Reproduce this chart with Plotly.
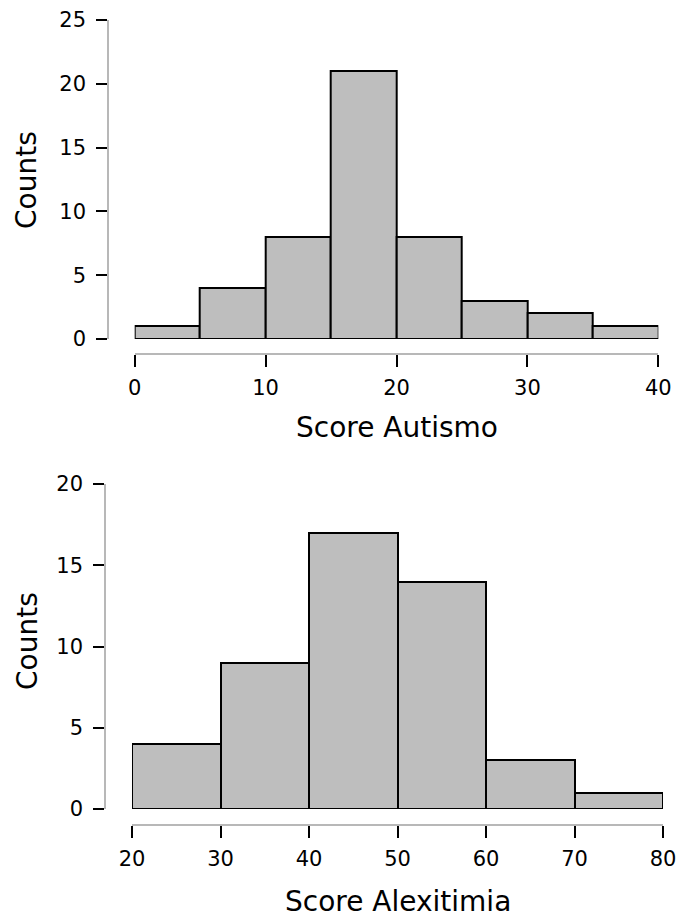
import plotly.graph_objects as go

# Histogram 1: Score Autismo
autismo_bin_starts = [0, 5, 10, 15, 20, 25, 30, 35]
autismo_bin_width = 5
autismo_counts = [1, 4, 8, 21, 8, 3, 2, 1]
autismo_xticks = [0, 10, 20, 30, 40]
autismo_yticks = [0, 5, 10, 15, 20, 25]

# Histogram 2: Score Alexitimia
alex_bin_starts = [20, 30, 40, 50, 60, 70]
alex_bin_width = 10
alex_counts = [4, 9, 17, 14, 3, 1]
alex_xticks = [20, 30, 40, 50, 60, 70, 80]
alex_yticks = [0, 5, 10, 15, 20]

W, H = 677, 921
FONT = "DejaVu Sans"
BAR_FILL = "#bebebe"
AXIS_GRAY = "#b8b8b8"


def px(x):
    return x / W


def py(y):
    return 1 - y / H


fig = go.Figure()

fig.add_trace(go.Bar(
    x=[s + autismo_bin_width / 2 for s in autismo_bin_starts],
    y=autismo_counts,
    width=[autismo_bin_width] * len(autismo_counts),
    marker=dict(color=BAR_FILL, line=dict(color="black", width=2)),
    xaxis="x", yaxis="y", showlegend=False, hoverinfo="x+y",
))
fig.add_trace(go.Bar(
    x=[s + alex_bin_width / 2 for s in alex_bin_starts],
    y=alex_counts,
    width=[alex_bin_width] * len(alex_counts),
    marker=dict(color=BAR_FILL, line=dict(color="black", width=2)),
    xaxis="x2", yaxis="y2", showlegend=False, hoverinfo="x+y",
))

tickfont = dict(family=FONT, size=21, color="black")
titlefont = dict(family=FONT, size=28, color="black")


def xax(domain, pos, rng, ticks):
    return dict(
        domain=domain, anchor="free", position=pos, range=rng,
        tickmode="array", tickvals=ticks, ticktext=[str(t) for t in ticks],
        showline=True, linecolor=AXIS_GRAY, linewidth=1.5,
        ticks="outside", ticklen=12, tickwidth=1.8, tickcolor="black",
        ticklabelstandoff=3, ticklabeloverflow="allow",
        showgrid=False, zeroline=False, automargin=False,
        tickfont=tickfont,
    )


def yax(domain, pos, rng, ticks):
    return dict(
        domain=domain, anchor="free", position=pos, range=rng,
        tickmode="array", tickvals=ticks, ticktext=[str(t) for t in ticks],
        showline=True, linecolor=AXIS_GRAY, linewidth=1.5,
        ticks="outside", ticklen=11, tickwidth=1.8, tickcolor="black",
        ticklabelstandoff=6, ticklabeloverflow="allow",
        showgrid=False, zeroline=False, automargin=False,
        tickfont=tickfont,
    )


fig.update_layout(
    width=W, height=H,
    margin=dict(l=0, r=0, t=0, b=0),
    paper_bgcolor="white", plot_bgcolor="white",
    bargap=0,
    xaxis=xax([px(134.7), px(658.3)], py(354.3), [0, 40], autismo_xticks),
    yaxis=yax([py(339), py(20)], px(108), [0, 25], autismo_yticks),
    xaxis2=xax([px(132), px(663)], py(825), [20, 80], alex_xticks),
    yaxis2=yax([py(809), py(484)], px(105), [0, 20], alex_yticks),
)

titles = [
    dict(text="Score Autismo", x=px((134.7 + 658.3) / 2), y=py(427), textangle=0),
    dict(text="Score Alexitimia", x=px((132 + 663) / 2), y=py(901), textangle=0),
    dict(text="Counts", x=px(27), y=py(180), textangle=-90),
    dict(text="Counts", x=px(27), y=py(641), textangle=-90),
]
for t in titles:
    fig.add_annotation(
        text=t["text"], x=t["x"], y=t["y"], xref="paper", yref="paper",
        xanchor="center", yanchor="middle", textangle=t["textangle"],
        showarrow=False, font=titlefont,
    )

fig.write_html(
    "out.html",
    config={"displayModeBar": False},
    post_script="document.body.style.margin='0';document.body.style.overflow='hidden';",
)
